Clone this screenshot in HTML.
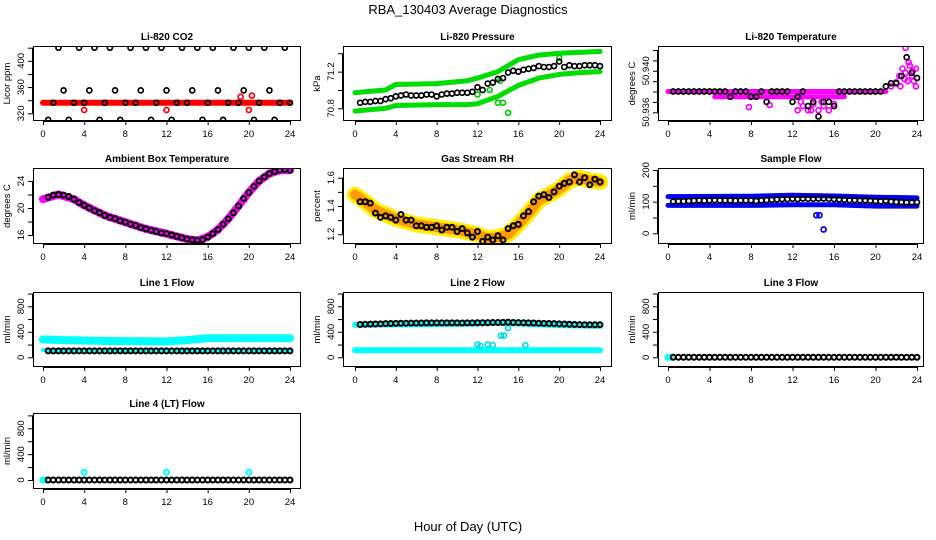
<!DOCTYPE html>
<html><head><meta charset="utf-8">
<style>
html,body{margin:0;padding:0;background:#fff;}
svg{display:block;font-family:"Liberation Sans",sans-serif;}
</style></head>
<body>
<svg id="chart" width="936" height="540" viewBox="0 0 936 540" xmlns="http://www.w3.org/2000/svg">
<rect width="936" height="540" fill="#fff"/>
<text x="468" y="14" text-anchor="middle" font-size="13">RBA_130403  Average Diagnostics</text>
<text x="468" y="531" text-anchor="middle" font-size="13">Hour of Day (UTC)</text>
</svg>
<script>
const hours = [0.5,1,1.5,2,2.5,3,3.5,4,4.5,5,5.5,6,6.5,7,7.5,8,8.5,9,9.5,10,10.5,11,11.5,12,12.5,13,13.5,14,14.5,15,15.5,16,16.5,17,17.5,18,18.5,19,19.5,20,20.5,21,21.5,22,22.5,23,23.5,24];
const xTicks = [0,4,8,12,16,20,24];

const co2Black = [310,336,420,355,310,336,420,336,355,420,310,336,420,355,310,336,420,336,355,420,310,336,420,355,310,336,420,336,355,420,310,336,420,355,310,336,420,336,355,420,310,336,420,355,310,336,420,336];
const co2BandHours = [0,24];
const co2BandVals = [336,336];
const co2RedOutHours = [4,12,19.2,20,20.3];
const co2RedOutVals = [325,325,345,325,347];

const presBlack = [70.86,70.87,70.87,70.88,70.88,70.90,70.91,70.93,70.94,70.95,70.94,70.94,70.94,70.95,70.95,70.93,70.95,70.96,70.96,70.97,70.97,70.97,70.98,71.03,71.00,71.07,71.08,71.12,71.13,71.19,71.21,71.20,71.22,71.23,71.24,71.26,71.25,71.25,71.26,71.31,71.25,71.27,71.26,71.26,71.27,71.27,71.27,71.26];
const presBandHours = [0,1,3,4,8,11,12,14,16,18,20,22,24];
const presUpper = [70.97,70.98,71.0,71.06,71.07,71.1,71.13,71.2,71.33,71.38,71.40,71.41,71.42];
const presLower = [70.77,70.78,70.80,70.83,70.84,70.84,70.85,70.93,71.05,71.13,71.17,71.19,71.20];
const presOutHours = [12,13.2,14,14.5,15,14.2,20];
const presOutVals = [70.95,71.0,70.86,70.86,70.75,71.1,71.35];

const tempBlack = [50.938,50.938,50.938,50.938,50.938,50.938,50.938,50.938,50.938,50.938,50.938,50.9375,50.938,50.938,50.938,50.9375,50.9375,50.938,50.937,50.938,50.938,50.938,50.938,50.937,50.9375,50.938,50.9366,50.937,50.9356,50.937,50.937,50.9366,50.938,50.938,50.938,50.938,50.938,50.938,50.938,50.938,50.938,50.9385,50.9388,50.9388,50.9395,50.9413,50.9398,50.9393];
const tempBandHours = [0,21];
const tempBandVals = [50.938,50.938];
const tempLowBandHours = [4.5,17];
const tempLowBandVals = [50.9375,50.9375];
const tempPinkHours = [7.8,9.8,12.5,13,13.5,14,14.5,15,15.5,16,12.8,13.8,14.8,21.5,22,22.3,22.6,22.9,23.1,23.3,23.5,23.7,23.9,22.4,22.8,23.2,23.6,23.9,22.9];
const tempPinkVals = [50.9365,50.9367,50.9362,50.9366,50.9362,50.9368,50.9362,50.9366,50.9362,50.9368,50.937,50.9362,50.937,50.9385,50.9389,50.9395,50.9402,50.9398,50.939,50.9405,50.9395,50.939,50.9402,50.9385,50.9392,50.9408,50.94,50.9385,50.9422];

const ambBlack = [21.6,21.9,22.0,21.9,21.7,21.3,20.8,20.4,20.0,19.6,19.3,18.9,18.6,18.4,18.1,17.9,17.6,17.4,17.1,16.9,16.7,16.5,16.3,16.2,16.0,15.8,15.6,15.4,15.3,15.2,15.3,15.7,16.2,16.8,17.6,18.4,19.3,20.3,21.4,22.3,23.2,24.0,24.6,25.1,25.4,25.6,25.7,25.6];
const ambBandHours = [0,1.5,3,4,6,8,10,12,14,15,16,17,18,19,20,21,22,23,24];
const ambBandVals = [21.3,22.0,21.3,20.4,18.9,17.9,16.9,16.2,15.4,15.2,15.7,16.8,18.4,20.3,22.3,24.0,25.1,25.6,25.6];

const rhBlack = [1.43,1.43,1.42,1.35,1.32,1.33,1.32,1.30,1.34,1.30,1.30,1.26,1.26,1.25,1.25,1.26,1.23,1.25,1.25,1.22,1.24,1.21,1.18,1.22,1.15,1.18,1.16,1.19,1.16,1.24,1.26,1.27,1.33,1.36,1.43,1.47,1.48,1.46,1.50,1.54,1.56,1.57,1.62,1.57,1.60,1.55,1.59,1.57];
const rhBandHours = [0,1,2,3,4,6,8,10,12,13,14,15,16,17,18,19,20,21,22,23,24];
const rhBandVals = [1.48,1.43,1.37,1.34,1.31,1.27,1.25,1.23,1.20,1.17,1.18,1.20,1.27,1.35,1.44,1.48,1.52,1.58,1.60,1.58,1.57];

const sampleBlack = [100,101,101,102,103,104,103,104,105,104,104,104,103,104,104,104,102,104,105,106,107,108,108,109,108,110,109,109,110,110,109,108,107,106,105,105,104,104,103,102,101,103,100,99,98,97,97,98];
const sampleBandHours = [0,8,12,16,20,24];
const sampleUpper = [116,117,120,118,114,112];
const sampleLower = [88,88,90,90,86,86];
const sampleOutHours = [14.3,14.6,15];
const sampleOutVals = [57,57,12];

const line1Black = [100,100,100,100,100,100,100,100,100,100,100,100,100,100,100,100,100,100,100,100,100,100,100,100,100,100,100,100,100,100,100,100,100,100,100,100,100,100,100,100,100,100,100,100,100,100,100,100];
const line1BandHours = [0,2,6,12,14,16,20,24];
const line1Upper = [280,270,255,250,270,300,300,300];
const line1Lower = [115,115,115,115,115,115,115,115];

const line2Black = [515,518,520,522,525,528,530,532,534,535,536,537,538,540,540,540,540,540,540,540,538,540,540,542,542,543,545,546,548,550,546,544,542,540,538,535,532,530,528,525,522,518,515,512,510,510,510,510];
const line2BandHours = [0,6,12,14,16,20,24];
const line2Upper = [510,520,530,540,530,505,495];
const line2Lower = [110,110,110,110,110,110,110];
const line2OutHours = [12,12.3,13,13.5,14.3,14.6,15,16.7];
const line2OutVals = [200,180,200,190,340,340,460,190];

const line3Black = [0,0,0,0,0,0,0,0,0,0,0,0,0,0,0,0,0,0,0,0,0,0,0,0,0,0,0,0,0,0,0,0,0,0,0,0,0,0,0,0,0,0,0,0,0,0,0,0];
const line3CyanHours = [0,0.2];
const line3CyanVals = [0,0];

const line4Black = [0,0,0,0,0,0,0,0,0,0,0,0,0,0,0,0,0,0,0,0,0,0,0,0,0,0,0,0,0,0,0,0,0,0,0,0,0,0,0,0,0,0,0,0,0,0,0,0];
const line4CyanHours = [0,0.2,4,12,20];
const line4CyanVals = [0,0,120,120,120];

const NS = "http://www.w3.org/2000/svg";
const svg = document.getElementById('chart');
const cols = [{l:33,r:301,x0:43,x24:290},{l:343,r:612,x0:355,x24:600},{l:658,r:924,x0:668,x24:917}];
const rowsT = [46,168,292,413], rowsB = [121,244,367,489];

function mk(tag, attrs, parent){
  const e = document.createElementNS(NS, tag);
  for (const k in attrs) e.setAttribute(k, attrs[k]);
  (parent||svg).appendChild(e);
  return e;
}

function panel(name, title, ylab, c, r, v1, p1, v2, p2, yticks, ylabels){
  const C = cols[c], top = rowsT[r], bot = rowsB[r];
  const g = mk('g', {});
  
  
  const x = v => C.x0 + (C.x24 - C.x0) * v / 24;
  const y = v => p1 + (p2 - p1) * (v - v1) / (v2 - v1);
  const clipId = 'clip-' + name;
  const cp = mk('clipPath', {id: clipId}, g);
  mk('rect', {x: C.l, y: top, width: C.r - C.l, height: bot - top}, cp);
  const plot = mk('g', {'clip-path': 'url(#' + clipId + ')'}, g);
  
  
  const fr = mk('rect', {x: C.l + 0.5, y: top + 0.5, width: C.r - C.l - 1, height: bot - top - 1, fill: 'none', stroke: '#000', 'stroke-width': 1}, g);
  
  
  const t = mk('text', {x: (C.l + C.r) / 2, y: top - 6, 'text-anchor': 'middle', 'font-size': 10, 'font-weight': 'bold'}, g);
  t.textContent = title;
  
  
  const xa = mk('g', {}, g);
  
  
  mk('line', {x1: x(0), x2: x(24), y1: bot + 0.5, y2: bot + 0.5, stroke: '#000'}, xa);
  xTicks.forEach(v => {
    mk('line', {x1: x(v) + 0.5, x2: x(v) + 0.5, y1: bot, y2: bot + 4, stroke: '#000'}, xa);
    const tl = mk('text', {x: x(v), y: bot + 16, 'text-anchor': 'middle', 'font-size': 9.5}, xa);
    tl.textContent = v;
    
    
  });
  const ya = mk('g', {}, g);
  
  
  mk('line', {x1: C.l - 0.5, x2: C.l - 0.5, y1: y(yticks[0]), y2: y(yticks[yticks.length - 1]), stroke: '#000'}, ya);
  yticks.forEach(v => mk('line', {x1: C.l - 5, x2: C.l, y1: y(v) + 0.5, y2: y(v) + 0.5, stroke: '#000'}, ya));
  ylabels.forEach(s => {
    const yy = y(parseFloat(s)), xx = C.l - 9;
    const tl = mk('text', {x: xx, y: yy, 'text-anchor': 'middle', 'font-size': 9.5, transform: 'rotate(-90 ' + xx + ' ' + yy + ')'}, ya);
    tl.textContent = s;
    
    
  });
  const yt = mk('text', {x: C.l - 23, y: (top + bot) / 2, 'text-anchor': 'middle', 'font-size': 9.5, transform: 'rotate(-90 ' + (C.l - 23) + ' ' + ((top + bot) / 2) + ')'}, g);
  yt.textContent = ylab;
  
  
  return {x, y, plot};
}

function band(P, hs, vs, color, w, nm){
  const pts = hs.map((h, i) => P.x(h).toFixed(1) + ',' + P.y(vs[i]).toFixed(1)).join(' ');
  const pl = mk('polyline', {points: pts, fill: 'none', stroke: color, 'stroke-width': w, 'stroke-linejoin': 'round', 'stroke-linecap': 'round'}, P.plot);
  
  
}
function dots(P, hs, vs, color, nm, sw){
  const n = Math.min(hs.length, vs.length);
  for (let i = 0; i < n; i++) {
    const ci = mk('circle', {cx: P.x(hs[i]), cy: P.y(vs[i]), r: 2.5, fill: 'none', stroke: color, 'stroke-width': sw || 1.7}, P.plot);
    
    
  }
}

P = panel('co2', 'Li-820 CO2', 'Licor ppm', 0, 0, 320, 113.3, 420, 47.7, [320,340,360,380,400,420], ['320','360','400']);
band(P, co2BandHours, co2BandVals, '#ff0000', 6, 'co2-red-band');
dots(P, co2RedOutHours, co2RedOutVals, '#ff0000', 'co2-red-point');
dots(P, hours, co2Black, '#000', 'co2-mean-point');

P = panel('pressure', 'Li-820 Pressure', 'kPa', 1, 0, 70.8, 108.3, 71.4, 53.3, [70.8,71.0,71.2,71.4], ['70.8','71.2']);
band(P, presBandHours, presUpper, '#00dd00', 5, 'pressure-upper-band');
band(P, presBandHours, presLower, '#00dd00', 5, 'pressure-lower-band');
dots(P, presOutHours, presOutVals, '#00cc00', 'pressure-green-point');
dots(P, hours, presBlack, '#000', 'pressure-mean-point');

P = panel('licor-temp', 'Li-820 Temperature', 'degrees C', 2, 0, 50.936, 112.3, 50.942, 50.0, [50.936,50.937,50.938,50.939,50.940,50.941,50.942], ['50.936','50.940']);
band(P, tempBandHours, tempBandVals, '#ff00ff', 5, 'temp-main-band');
band(P, tempLowBandHours, tempLowBandVals, '#ff00ff', 5, 'temp-low-band');
dots(P, tempPinkHours, tempPinkVals, '#ff00ff', 'temp-magenta-point');
dots(P, hours, tempBlack, '#000', 'temp-mean-point');

P = panel('ambient', 'Ambient Box Temperature', 'degrees C', 0, 1, 16, 235, 24, 181, [16,18,20,22,24], ['16','20','24']);
band(P, ambBandHours, ambBandVals, '#ff00ff', 8, 'ambient-band');
dots(P, hours, ambBlack, '#000', 'ambient-mean-point', 2);

P = panel('rh', 'Gas Stream RH', 'percent', 1, 1, 1.2, 234.3, 1.6, 177.7, [1.2,1.3,1.4,1.5,1.6], ['1.2','1.4','1.6']);
band(P, rhBandHours, rhBandVals, '#ffee00', 16, 'rh-yellow-band');
band(P, rhBandHours, rhBandVals, '#ff9a00', 10, 'rh-orange-band');
dots(P, hours, rhBlack, '#000', 'rh-mean-point', 2);

P = panel('sample-flow', 'Sample Flow', 'ml/min', 2, 1, 0, 233.3, 200, 170, [0,50,100,150,200], ['0','100','200']);
band(P, sampleBandHours, sampleUpper, '#0000ee', 5, 'sample-upper-band');
band(P, sampleBandHours, sampleLower, '#0000ee', 5, 'sample-lower-band');
dots(P, sampleOutHours, sampleOutVals, '#0000ee', 'sample-blue-point');
dots(P, hours, sampleBlack, '#000', 'sample-mean-point');

P = panel('line1', 'Line 1 Flow', 'ml/min', 0, 2, 0, 357.3, 800, 306.3, [0,200,400,600,800,1000], ['0','400','800']);
band(P, line1BandHours, line1Upper, '#00ffff', 8, 'line1-upper-band');
band(P, line1BandHours, line1Lower, '#00ffff', 4, 'line1-lower-band');
dots(P, hours, line1Black, '#000', 'line1-mean-point', 2);

P = panel('line2', 'Line 2 Flow', 'ml/min', 1, 2, 0, 357.3, 800, 306.3, [0,200,400,600,800,1000], ['0','400','800']);
band(P, line2BandHours, line2Upper, '#00ffff', 6, 'line2-upper-band');
band(P, line2BandHours, line2Lower, '#00ffff', 6, 'line2-lower-band');
dots(P, line2OutHours, line2OutVals, '#00dddd', 'line2-cyan-point');
dots(P, hours, line2Black, '#000', 'line2-mean-point', 2);

P = panel('line3', 'Line 3 Flow', 'ml/min', 2, 2, 0, 357.3, 800, 306.3, [0,200,400,600,800,1000], ['0','400','800']);
dots(P, line3CyanHours, line3CyanVals, '#00ffff', 'line3-cyan-point', 2);
dots(P, hours, line3Black, '#000', 'line3-mean-point', 2);

P = panel('line4', 'Line 4 (LT) Flow', 'ml/min', 0, 3, 0, 480, 800, 428.3, [0,200,400,600,800,1000], ['0','400','800']);
dots(P, line4CyanHours, line4CyanVals, '#00ffff', 'line4-cyan-point', 2);
dots(P, hours, line4Black, '#000', 'line4-mean-point', 2);
</script>
</body></html>
